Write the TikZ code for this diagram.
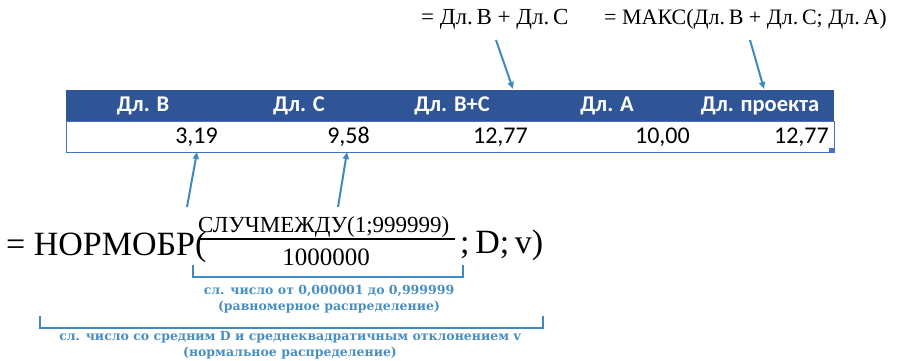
\documentclass[tikz,border=0pt]{standalone}
\usepackage{fontspec}
\setmainfont{Liberation Serif}
\newfontfamily\hdrfont{Carlito}
\newfontfamily\lblfont{DejaVu Serif}
\usetikzlibrary{arrows.meta}
\definecolor{hdrblue}{RGB}{47,85,151}
\definecolor{tblline}{RGB}{68,114,196}
\definecolor{arrblue}{RGB}{62,138,190}
\definecolor{lblblue}{RGB}{72,142,194}
\tikzset{
  hdr/.style={font=\hdrfont\bfseries\fontsize{22.5}{26}\selectfont, text=white, inner sep=0pt},
  val/.style={font=\hdrfont\fontsize{24}{28}\selectfont, inner sep=0pt, anchor=east},
  topf/.style={font=\fontsize{23}{28}\selectfont, inner sep=0pt, anchor=west},
  bigf/.style={font=\fontsize{34}{38}\selectfont, inner sep=0pt},
  fracf/.style={font=\fontsize{23}{26}\selectfont, inner sep=0pt},
  lbl/.style={font=\lblfont\bfseries\fontsize{12.5}{15.5}\selectfont, text=lblblue, inner sep=0pt, align=center},
  arr/.style={draw=arrblue, line width=2pt, -{Triangle[length=7pt,width=6pt]}},
  brk/.style={draw=arrblue, line width=2.5pt}
}
\begin{document}
\begin{tikzpicture}[x=1pt,y=-1pt]
\useasboundingbox (0,0) rectangle (903,360);
% table
\fill[hdrblue] (66,90) rectangle (834,121);
\draw[tblline, line width=1pt] (66,121) rectangle (834,152);
\fill[tblline] (829,148) rectangle (834,152);
\node[hdr] (h1) at (143,106) {Дл. B};
\node[hdr] (h2) at (299,106) {Дл. C};
\node[hdr] (h3) at (452,106) {Дл. B+C};
\node[hdr] (h4) at (607,106) {Дл. A};
\node[hdr] (h5) at (760,106) {Дл. проекта};
\node[val] (v1) at (218,137) {3,19};
\node[val] (v2) at (370,137) {9,58};
\node[val] (v3) at (528,137) {12,77};
\node[val] (v4) at (690,137) {10,00};
\node[val] (v5) at (829,137) {12,77};
% top formulas
\node[topf] (f1) at (421,19) {= Дл.\,B + Дл.\,C};
\node[topf, font=\fontsize{22}{26}\selectfont] (f2) at (604,19) {= МАКС(Дл.\,B + Дл.\,C; Дл.\,A)};
\coordinate (a1s) at (496,40);
\coordinate (a1e) at (513,89);
\coordinate (a2s) at (750,40);
\coordinate (a2e) at (764,89);
\draw[arr] (a1s) -- (a1e);
\draw[arr] (a2s) -- (a2e);
% big formula
\node[bigf, anchor=base west] (bf) at (6,255) {= НОРМОБР(};
\node[fracf, anchor=base west] (num) at (198,232) {СЛУЧМЕЖДУ(1;999999)};
\node[fracf, font=\fontsize{25}{28}\selectfont, anchor=base] (den) at (326,265) {1000000};
\node[bigf, anchor=base west] (tail) at (460,253) {;\,D;\,v)};
\draw[line width=1.2pt] (198,239) -- (455,239);
% arrows to values
\coordinate (b1s) at (187,207);
\coordinate (b1e) at (197,152);
\coordinate (b2s) at (338,207);
\coordinate (b2e) at (347,152);
\draw[arr] (b1s) -- (b1e);
\draw[arr] (b2s) -- (b2e);
% brackets
\draw[brk] (193,265) -- (193,277) -- (463,277) -- (463,265);
\node[lbl] (l1) at (329,299) {сл. число от 0,000001 до 0,999999\\(равномерное распределение)};
\draw[brk] (40,316) -- (40,328) -- (543,328) -- (543,316);
\node[lbl] (l2) at (290,345) {сл. число со средним D и среднеквадратичным отклонением v\\(нормальное распределение)};
\end{tikzpicture}
\end{document}
